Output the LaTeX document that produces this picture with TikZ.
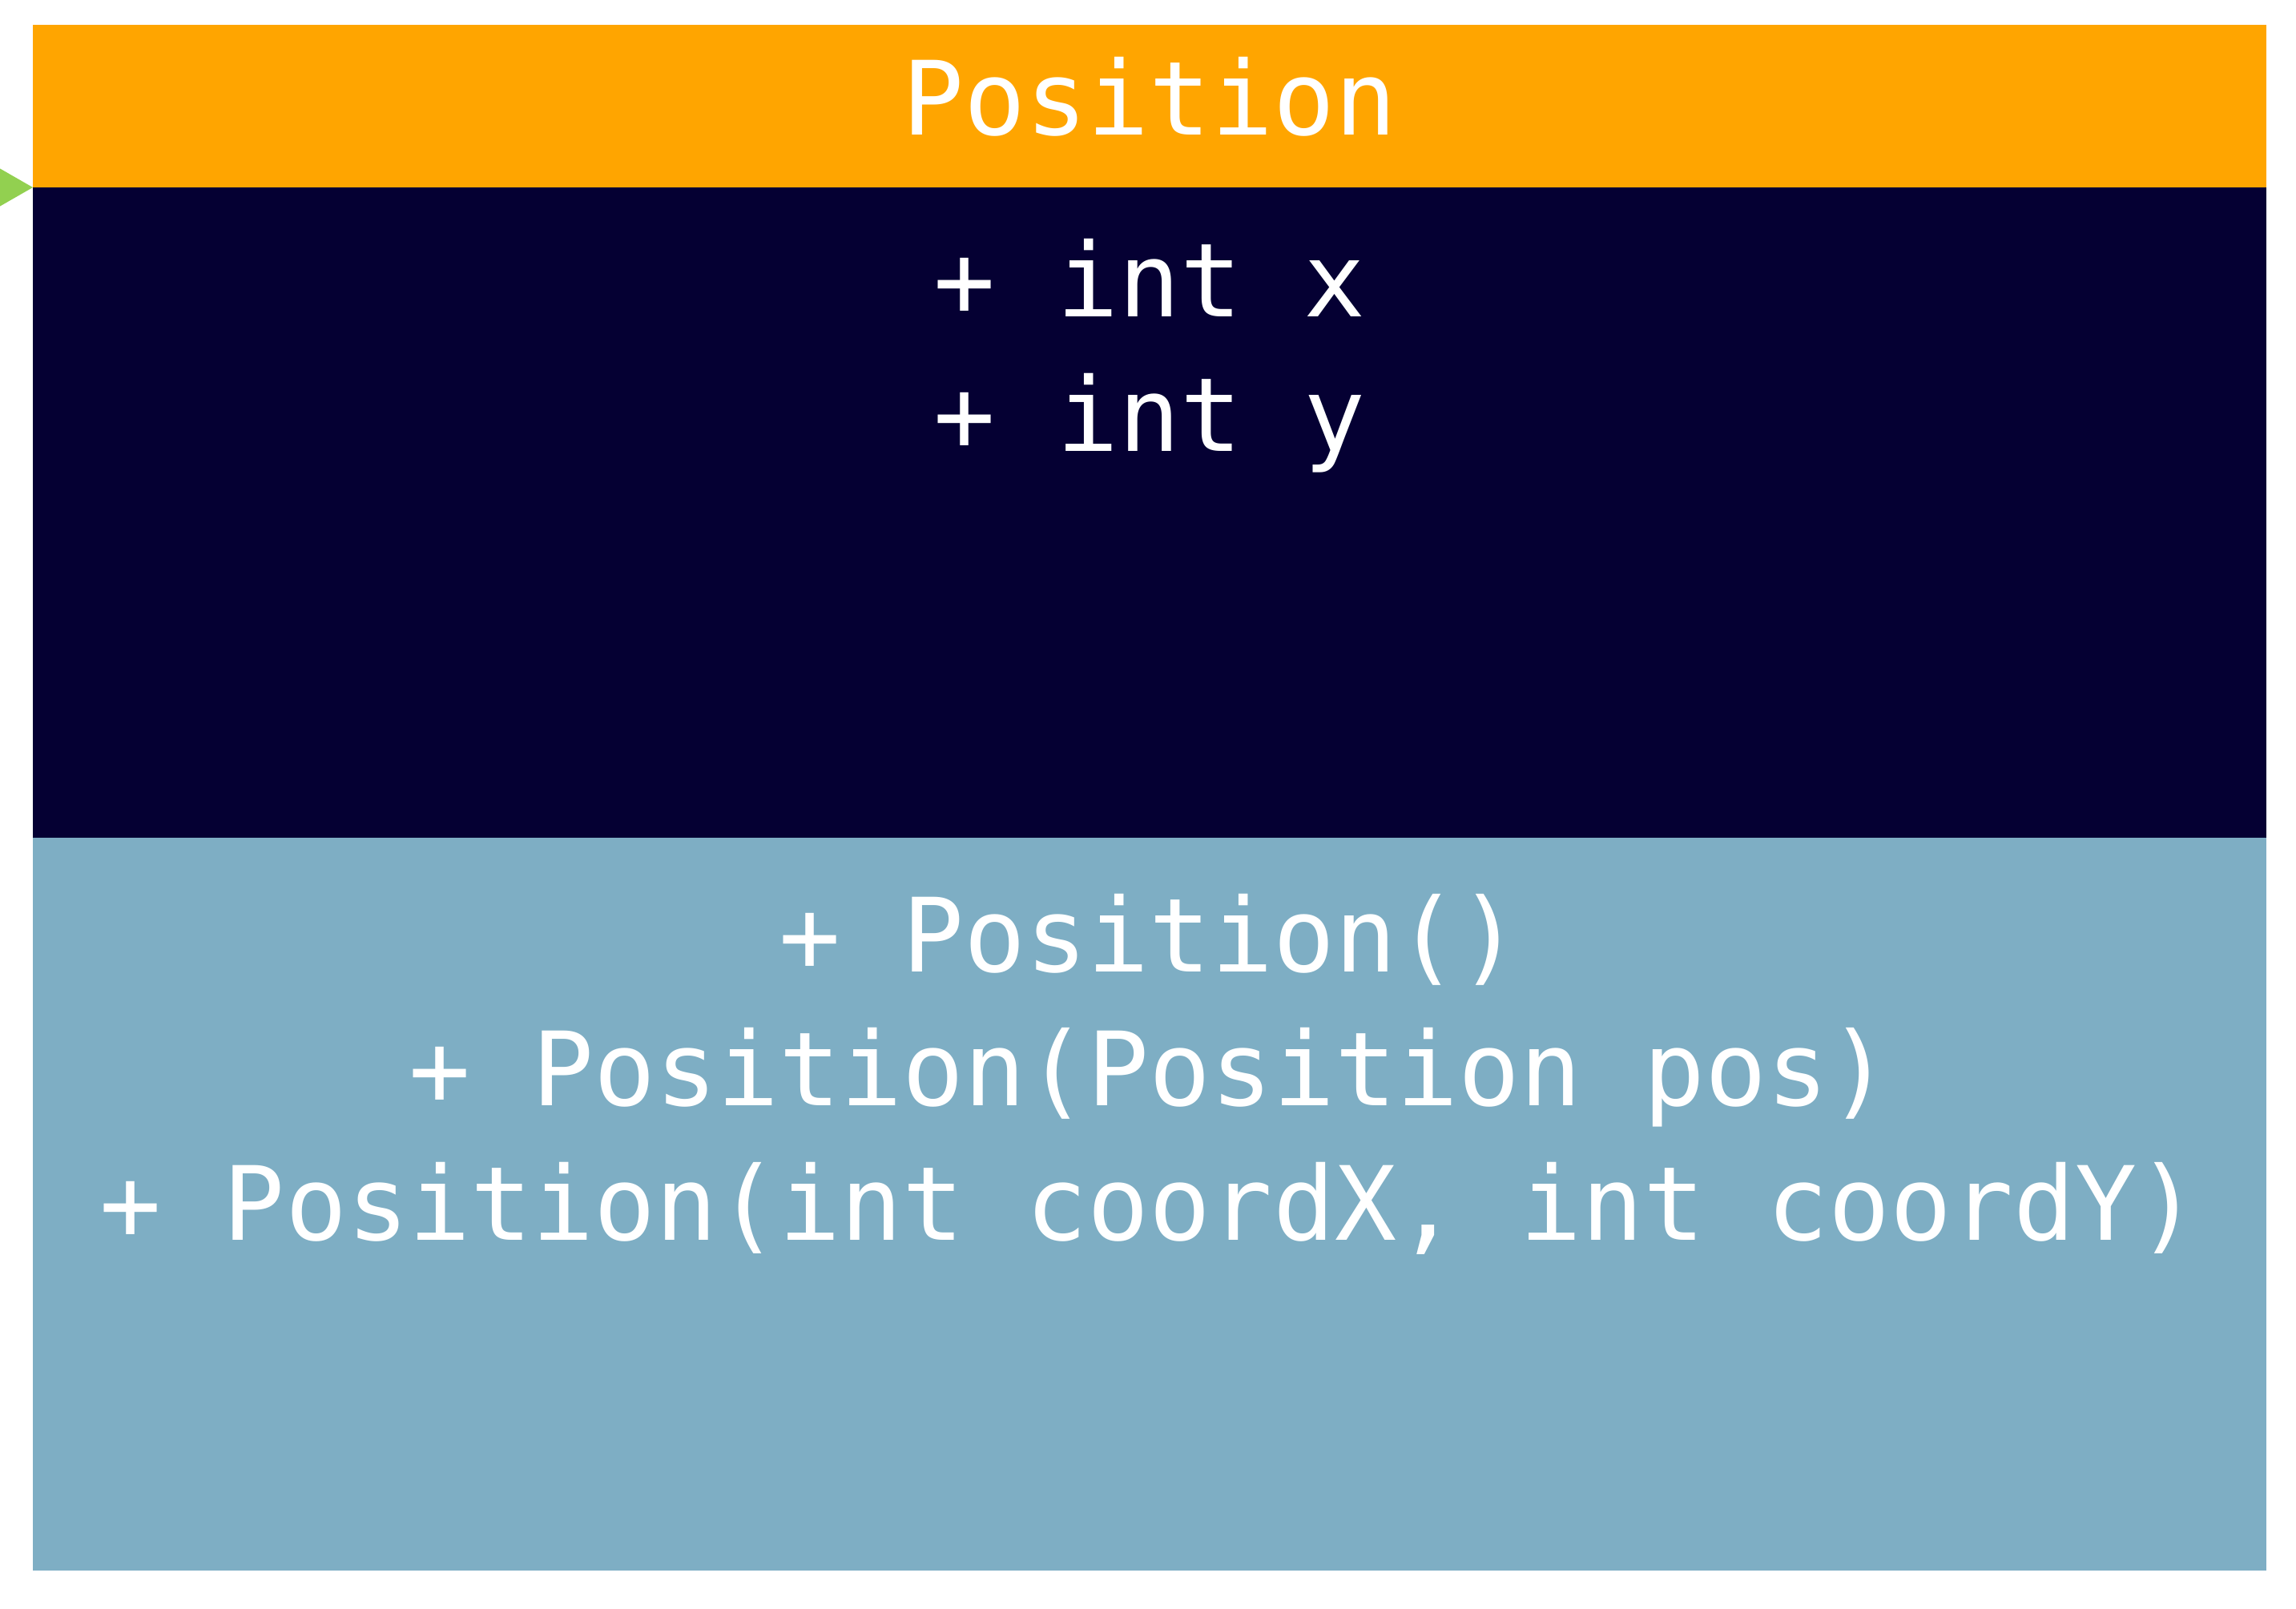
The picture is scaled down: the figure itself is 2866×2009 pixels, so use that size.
\documentclass[tikz,border=0pt]{standalone}
\usepackage{fontspec}
\setmonofont{DejaVu Sans Mono}
\usetikzlibrary{calc}
\begin{document}
\definecolor{hdrorange}{HTML}{FFA500}
\definecolor{fieldnavy}{HTML}{050033}
\definecolor{methblue}{HTML}{7EAEC4}
\definecolor{linkgreen}{HTML}{92D050}
\begin{tikzpicture}[x=0.01cm,y=-0.01cm,
  umltext/.style={text=white,font=\ttfamily\fontsize{36.4pt}{47pt}\selectfont,
    inner sep=0pt,anchor=base}]
  \useasboundingbox (0,0) rectangle (2866,2009);
  \clip (0,0) rectangle (2866,2009);
  % compartments of the class box
  \fill[hdrorange] (41,31) rectangle (2829,234);
  \fill[fieldnavy] (41,234) rectangle (2829,1046);
  \fill[methblue] (41,1046) rectangle (2829,1961);
  \coordinate (hook) at (41,234);
  % class name
  \node[umltext] (name) at (1435,169) {Position};
  % attributes
  \node[umltext] (fx) at (1435,396) {+ int x};
  \node[umltext] (fy) at (1435,563) {+ int y};
  % operations
  \node[umltext] (m1) at (1435,1213) {+ Position()};
  \node[umltext] (m2) at (1435,1380) {+ Position(Position pos)};
  \node[umltext] (m3) at (1435,1548) {+ Position(int coordX, int coordY)};
  % incoming association arrowhead
  \fill[linkgreen] (hook) -- ($(hook)+(-61,-35)$) -- ($(hook)+(-61,35)$) -- cycle;
\end{tikzpicture}
\end{document}
